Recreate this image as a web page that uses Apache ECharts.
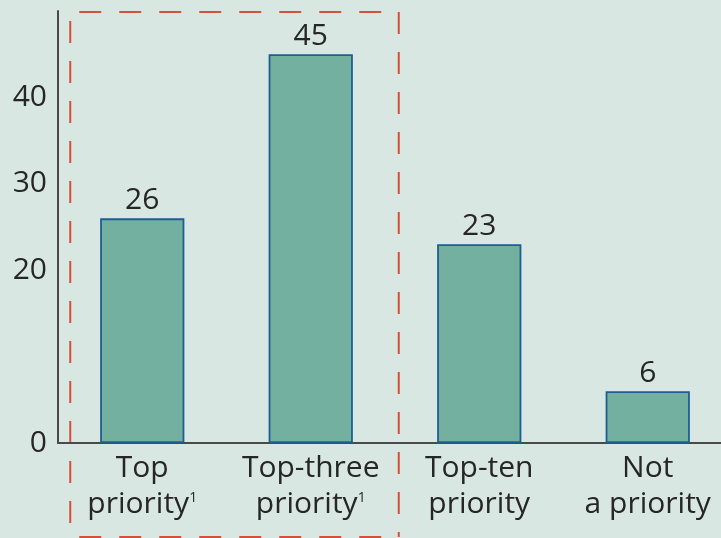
<!DOCTYPE html>
<html>
<head>
<meta charset="utf-8">
<script src="https://cdn.jsdelivr.net/npm/echarts@6/dist/echarts.min.js"></script>
<style>
html, body {margin: 0; padding: 0; background: #d9e7e2;}
#chart {width: 721px; height: 538px;}
</style>
</head>
<body>
<div id="chart"></div>
<script>
const categories = ['Top\npriority{sup|1}', 'Top-three\npriority{sup|1}', 'Top-ten\npriority', 'Not\na priority'];
const shares = [26, 45, 23, 6];
const yTicks = [0, 20, 30, 40];

const font = '"Open Sans", "Liberation Sans", sans-serif';
const textColor = '#262626';
const chart = echarts.init(document.getElementById('chart'), null, {renderer: 'canvas'});

chart.setOption({
    backgroundColor: '#d9e7e2',
    animation: false,
    textStyle: {fontFamily: font},
    // the last category runs past the right edge of the picture
    grid: {left: 58, top: 11, bottom: 95, width: 674, outerBoundsMode: 'none'},
    xAxis: {
        type: 'category',
        data: categories,
        axisLine: {lineStyle: {color: '#4a4a4a', width: 2}},
        axisTick: {show: false},
        axisLabel: {
            margin: 7,
            interval: 0,
            color: textColor,
            fontSize: 30,
            lineHeight: 36,
            fontFamily: font,
            rich: {
                sup: {fontSize: 14, lineHeight: 36, verticalAlign: 'top', color: textColor, padding: [5, 0, 0, 0]},
            },
        },
    },
    yAxis: {
        type: 'value',
        min: 0,
        max: 50,
        interval: 10,
        splitLine: {show: false},
        axisTick: {show: false},
        axisLine: {show: true, lineStyle: {color: '#4a4a4a', width: 2}},
        axisLabel: {
            margin: 11,
            color: textColor,
            fontSize: 30,
            fontFamily: font,
            formatter: v => yTicks.includes(v) ? String(v) : '',
        },
    },
    series: [{
        type: 'bar',
        data: shares,
        barWidth: '50%',
        itemStyle: {color: '#74b0a0', borderColor: '#1d5f92', borderWidth: 1.8},
        label: {
            show: true,
            position: 'top',
            distance: 3,
            color: textColor,
            fontSize: 30,
            fontFamily: font,
        },
    }],
});

// dashed frame round the two "priority¹" bars
const c0 = chart.convertToPixel({xAxisIndex: 0}, 0);
const c1 = chart.convertToPixel({xAxisIndex: 0}, 1);
const frameL = c0 - 72;
const frameR = c1 + 88;
const frameT = 12;
const frameB = 537;
const dash = {stroke: '#d5503b', lineWidth: 2, lineDash: [22, 18]};
chart.setOption({
    graphic: [
        {type: 'line', shape: {x1: frameL, y1: frameT, x2: frameL, y2: frameB}, style: {...dash, lineDashOffset: 31}},
        {type: 'line', shape: {x1: frameL, y1: frameT, x2: frameR, y2: frameT}, style: {...dash, lineDashOffset: 31}},
        {type: 'line', shape: {x1: frameR, y1: frameT, x2: frameR, y2: frameB}, style: {...dash, lineDashOffset: 0}},
        {type: 'line', shape: {x1: frameL, y1: frameB, x2: frameR, y2: frameB}, style: {...dash, lineDashOffset: 31}},
    ],
});
</script>
</body>
</html>
